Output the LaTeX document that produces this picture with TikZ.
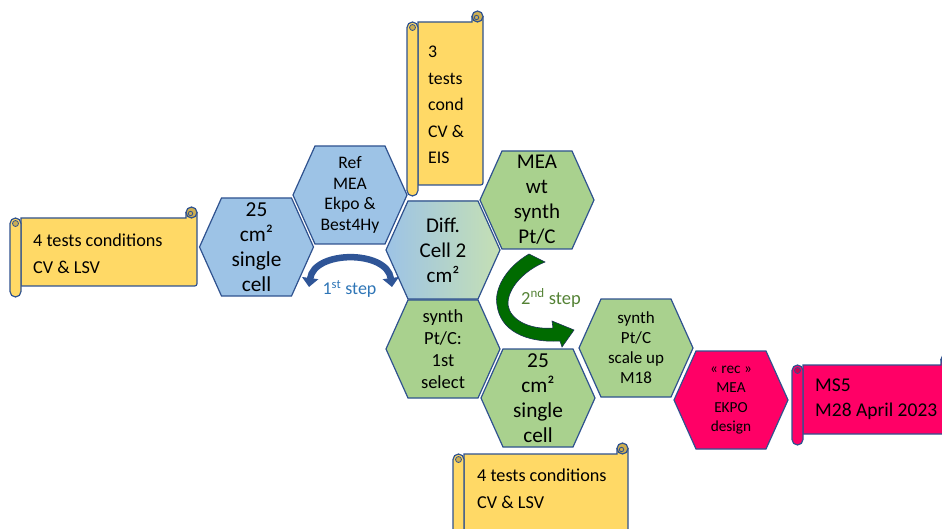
\documentclass[tikz,border=0pt]{standalone}
\usepackage{fontspec}
\setmainfont{Carlito}
\usetikzlibrary{arrows.meta}
\definecolor{scrollyellow}{HTML}{FFD966}
\definecolor{hexblue}{HTML}{9DC3E6}
\definecolor{hexgreen}{HTML}{A9D18E}
\definecolor{hexpink}{HTML}{FF0066}
\definecolor{gradgreen}{HTML}{C5E0B4}
\definecolor{outlineblue}{HTML}{2F528F}
\definecolor{stepblue}{HTML}{2E75B6}
\definecolor{arrowblue}{HTML}{2F5597}
\definecolor{arrowgreen}{HTML}{006B00}
\definecolor{stepgreen}{HTML}{548235}

\newcommand\fs[2]{\fontsize{#1}{#2}\selectfont}

% hexagon: name, x, y, fill style, font, text
\newcommand\hexa[6]{%
 \filldraw[hexline,#4,shift={(#2,#3)}] (-57,0) -- (-35,-49) -- (35,-49) -- (57,0) -- (35,49) -- (-35,49) -- cycle;
 \node[hextext,font=#5] (#1) at (#2,#3) {#6};}

% scroll: x0, y0, x1, y1, fill colour
\newcommand\scrollbox[5]{%
 \filldraw[scrollline,fill=#5] (#1+11,#2+11) -- (#3-11,#2+11) -- (#3-11,#2+5.5) -- (#3,#2+5.5) -- (#3,#4-16) .. controls (#3,#4-11) .. (#3-5,#4-11) -- (#1+11,#4-11) -- cycle;
 \filldraw[scrollline,fill=#5!80!black] (#3-5.5,#2+5.5) circle[radius=5.5];
 \draw[scrollline,line width=0.8pt] (#3-6.5,#2+6.5) circle[radius=2.2];
 \filldraw[scrollline,fill=#5,rounded corners=5.5pt] (#1,#2+11) rectangle (#1+11,#4);
 \filldraw[scrollline,line width=0.8pt,fill=#5!80!black] (#1+5.5,#2+16.5) circle[radius=3];
}

\begin{document}
\begin{tikzpicture}[x=1pt,y=-1pt,
  hexline/.style={draw=outlineblue,line width=1.2pt},
  hextext/.style={align=center,inner sep=0pt,text=black},
  scrollline/.style={draw=outlineblue,line width=1.2pt},
  scrolltext/.style={anchor=west,align=left,inner sep=0pt,text=black},
  steponearrow/.style={draw=arrowblue,line width=6.5pt,
     {Triangle[width=16pt,length=9pt]}-{Triangle[width=16pt,length=9pt]}},
  steptwoarrow/.style={fill=arrowgreen,draw=outlineblue!60!black,line width=0.6pt}]
\useasboundingbox (0,0) rectangle (942,529);
\clip (0,0) rectangle (942,529);

% scrolls
\scrollbox{10}{207}{197}{297}{scrollyellow}
\node[scrolltext,font=\fs{18.2}{27}] (s1t) at (33,253.5) {4 tests conditions\\CV \& LSV};

\scrollbox{407}{11}{483}{196}{scrollyellow}
\node[scrolltext,font=\fs{17.8}{26.5}] (s2t) at (428,105) {3\\tests\\cond\\CV \&\\EIS};

\scrollbox{453}{443}{628}{560}{scrollyellow}
\node[scrolltext,font=\fs{18.2}{27}] (s3t) at (477,488.5) {4 tests conditions\\CV \& LSV};

\scrollbox{792}{354}{952}{445}{hexpink}
\node[scrolltext,font=\fs{19.5}{25}] (s4t) at (815,399.5) {MS5\\M28 April 2023};

% hexagons
\hexa{h1}{256.5}{247}{fill=hexblue}{\fs{21.3}{25}}{25\\cm²\\single\\cell}
\hexa{h2}{350}{195}{fill=hexblue}{\fs{17.6}{20.5}}{Ref\\MEA\\Ekpo \&\\Best4Hy}
\hexa{h3}{443}{250}{left color=hexblue,right color=gradgreen}{\fs{21}{25}}{Diff.\\Cell 2\\cm²}
\hexa{h4}{537}{200}{fill=hexgreen}{\fs{21}{25}}{MEA\\wt\\synth\\Pt/C}
\hexa{h5}{443}{349}{fill=hexgreen}{\fs{18.5}{22}}{synth\\Pt/C:\\1st\\select}
\hexa{h6}{538}{398}{fill=hexgreen}{\fs{21.3}{25}}{25\\cm²\\single\\cell}
\hexa{h7}{636}{348}{fill=hexgreen}{\fs{17}{20}}{synth\\Pt/C\\scale up\\M18}
\hexa{h8}{731}{400}{fill=hexpink}{\fs{15.3}{19.3}}{« rec »\\MEA\\EKPO\\design}

% 1st step arrow
\coordinate (a1) at (309,287);
\coordinate (a2) at (392,287);
\draw[steponearrow] (a1) .. controls (314,250) and (387,250) .. (a2);
\node[text=stepblue,font=\fs{18}{20}] (l1) at (349.5,289) {1\textsuperscript{st} step};

% 2nd step arrow
\filldraw[steptwoarrow] (529,254) .. controls (505,268) and (494,290) .. (497,305)
  .. controls (500,330) and (525,343) .. (560,341) -- (562,347) -- (574,330) -- (552,321) -- (553,328)
  .. controls (530,330) and (510,320) .. (508,305) .. controls (507,288) and (525,270) .. (545,262) -- cycle;
\node[text=stepgreen,font=\fs{18.5}{22}] (l2) at (551,298) {2\textsuperscript{nd} step};
\end{tikzpicture}
\end{document}
